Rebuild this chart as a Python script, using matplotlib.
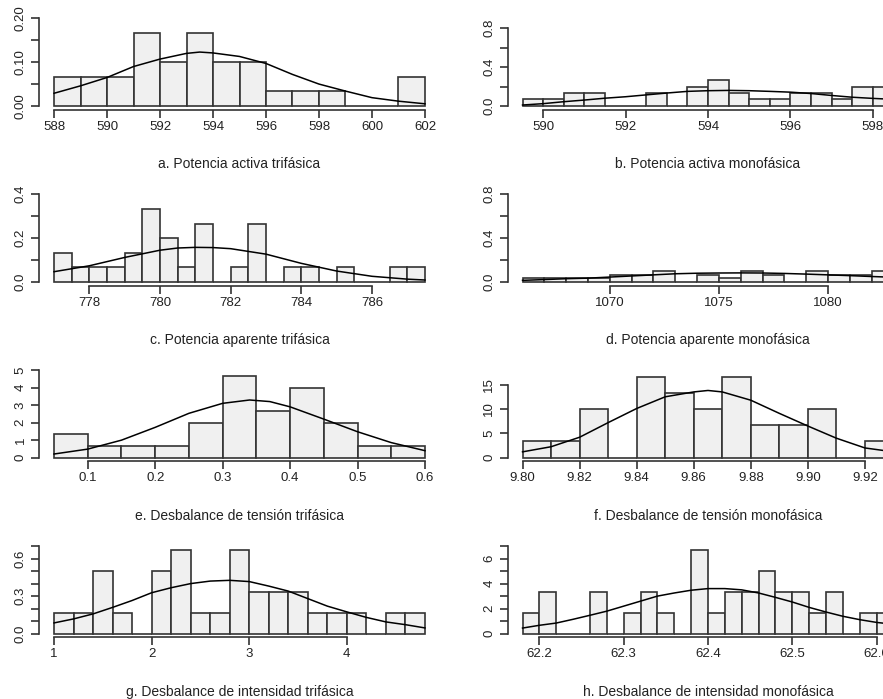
import numpy as np
import matplotlib
matplotlib.use("Agg")
import matplotlib.pyplot as plt
from matplotlib.transforms import offset_copy

plt.rcParams['font.family'] = ['Liberation Sans', 'DejaVu Sans']

W, H, DPI = 883, 699, 100

# ---------------- data ----------------
# a. Potencia activa trifásica
a_breaks = [588, 589, 590, 591, 592, 593, 594, 595, 596, 597, 598, 599, 600, 601, 602]
a_density = [0.0667, 0.0667, 0.0667, 0.1667, 0.1, 0.1667, 0.1, 0.1, 0.0333, 0.0333, 0.0333, 0, 0, 0.0667]
a_curve_x = [588, 589, 590, 591, 592, 593, 593.5, 594, 595, 596, 597, 598, 599, 600, 601, 602]
a_curve_y = [0.029, 0.046, 0.065, 0.090, 0.107, 0.120, 0.123, 0.121, 0.113, 0.097, 0.072, 0.050, 0.034, 0.019, 0.011, 0.005]
a_xticks = [588, 590, 592, 594, 596, 598, 600, 602]
a_yticks = [0.0, 0.05, 0.10, 0.15, 0.20]
a_ylabels = ["0.00", "", "0.10", "", "0.20"]
a_ylim = 0.20

# b. Potencia activa monofásica
b_breaks = [589.5, 590, 590.5, 591, 591.5, 592, 592.5, 593, 593.5, 594, 594.5, 595, 595.5, 596, 596.5, 597, 597.5, 598, 598.5]
b_density = [0.0667, 0.0667, 0.1333, 0.1333, 0, 0, 0.1333, 0, 0.2, 0.2667, 0.1333, 0.0667, 0.0667, 0.1333, 0.1333, 0.0667, 0.2, 0.2]
b_curve_x = [589.5, 590, 590.5, 591, 591.5, 592, 592.5, 593, 593.5, 594, 594.5, 595, 595.5, 596, 596.5, 597, 597.5, 598, 598.5]
b_curve_y = [0.010, 0.024, 0.044, 0.061, 0.080, 0.095, 0.114, 0.133, 0.150, 0.157, 0.160, 0.157, 0.150, 0.142, 0.128, 0.108, 0.090, 0.078, 0.068]
b_xticks = [590, 592, 594, 596, 598]
b_yticks = [0.0, 0.2, 0.4, 0.6, 0.8]
b_ylabels = ["0.0", "", "0.4", "", "0.8"]
b_ylim = 0.90

# c. Potencia aparente trifásica
c_breaks = [777, 777.5, 778, 778.5, 779, 779.5, 780, 780.5, 781, 781.5, 782, 782.5, 783, 783.5, 784, 784.5, 785, 785.5, 786, 786.5, 787, 787.5]
c_density = [0.1333, 0.0667, 0.0667, 0.0667, 0.1333, 0.3333, 0.2, 0.0667, 0.2667, 0, 0.0667, 0.2667, 0, 0.0667, 0.0667, 0, 0.0667, 0, 0, 0.0667, 0.0667]
c_curve_x = [777, 778, 779, 780, 780.5, 781, 781.5, 782, 783, 784, 785, 786, 787, 787.5]
c_curve_y = [0.047, 0.074, 0.112, 0.145, 0.155, 0.158, 0.157, 0.152, 0.127, 0.085, 0.050, 0.026, 0.013, 0.009]
c_xticks = [778, 780, 782, 784, 786]
c_yticks = [0.0, 0.1, 0.2, 0.3, 0.4]
c_ylabels = ["0.0", "", "0.2", "", "0.4"]
c_ylim = 0.40

# d. Potencia aparente monofásica
d_breaks = [1066, 1067, 1068, 1069, 1070, 1071, 1072, 1073, 1074, 1075, 1076, 1077, 1078, 1079, 1080, 1081, 1082, 1083]
d_density = [0.0333, 0.0333, 0.0333, 0.0333, 0.0667, 0.0667, 0.1, 0, 0.0667, 0.0333, 0.1, 0.0667, 0, 0.1, 0.0667, 0.0667, 0.1]
d_curve_x = [1066, 1067, 1068, 1069, 1070, 1071, 1072, 1073, 1074, 1075, 1076, 1077, 1078, 1079, 1080, 1081, 1082, 1083]
d_curve_y = [0.015, 0.022, 0.030, 0.035, 0.045, 0.055, 0.065, 0.075, 0.080, 0.082, 0.083, 0.082, 0.078, 0.072, 0.065, 0.058, 0.050, 0.043]
d_xticks = [1070, 1075, 1080]
d_yticks = [0.0, 0.2, 0.4, 0.6, 0.8]
d_ylabels = ["0.0", "", "0.4", "", "0.8"]
d_ylim = 0.80

# e. Desbalance de tensión trifásica
e_breaks = [0.05, 0.10, 0.15, 0.20, 0.25, 0.30, 0.35, 0.40, 0.45, 0.50, 0.55, 0.60]
e_density = [1.333, 0.667, 0.667, 0.667, 2.0, 4.667, 2.667, 4.0, 2.0, 0.667, 0.667]
e_curve_x = [0.05, 0.10, 0.15, 0.20, 0.25, 0.30, 0.34, 0.37, 0.40, 0.45, 0.50, 0.55, 0.60]
e_curve_y = [0.21, 0.49, 1.00, 1.73, 2.53, 3.10, 3.29, 3.20, 2.90, 2.20, 1.48, 0.86, 0.40]
e_xticks = [0.1, 0.2, 0.3, 0.4, 0.5, 0.6]
e_yticks = [0, 1, 2, 3, 4, 5]
e_ylabels = ["0", "1", "2", "3", "4", "5"]
e_ylim = 5.0

# f. Desbalance de tensión monofásica
f_breaks = [9.80, 9.81, 9.82, 9.83, 9.84, 9.85, 9.86, 9.87, 9.88, 9.89, 9.90, 9.91, 9.92, 9.93]
f_density = [3.333, 3.333, 10.0, 0, 16.667, 13.333, 10.0, 16.667, 6.667, 6.667, 10.0, 0, 3.333]
f_curve_x = [9.80, 9.81, 9.82, 9.83, 9.84, 9.85, 9.86, 9.865, 9.87, 9.88, 9.89, 9.90, 9.91, 9.92, 9.93]
f_curve_y = [1.2, 2.25, 4.2, 7.2, 10.1, 12.5, 13.5, 13.8, 13.5, 11.8, 9.1, 6.5, 4.0, 2.0, 1.2]
f_xticks = [9.80, 9.82, 9.84, 9.86, 9.88, 9.90, 9.92]
f_yticks = [0, 5, 10, 15]
f_ylabels = ["0", "5", "10", "15"]
f_ylim = 18.0

# g. Desbalance de intensidad trifásica
g_breaks = [1.0, 1.2, 1.4, 1.6, 1.8, 2.0, 2.2, 2.4, 2.6, 2.8, 3.0, 3.2, 3.4, 3.6, 3.8, 4.0, 4.2, 4.4, 4.6, 4.8]
g_density = [0.1667, 0.1667, 0.5, 0.1667, 0, 0.5, 0.6667, 0.1667, 0.1667, 0.6667, 0.3333, 0.3333, 0.3333, 0.1667, 0.1667, 0.1667, 0, 0.1667, 0.1667]
g_curve_x = [1.0, 1.2, 1.4, 1.6, 1.8, 2.0, 2.2, 2.4, 2.6, 2.8, 3.0, 3.2, 3.4, 3.6, 3.8, 4.0, 4.2, 4.4, 4.6, 4.8]
g_curve_y = [0.086, 0.118, 0.158, 0.21, 0.265, 0.327, 0.367, 0.40, 0.42, 0.426, 0.416, 0.38, 0.34, 0.28, 0.22, 0.174, 0.13, 0.094, 0.072, 0.046]
g_xticks = [1, 2, 3, 4]
g_yticks = [0.0, 0.1, 0.2, 0.3, 0.4, 0.5, 0.6, 0.7]
g_ylabels = ["0.0", "", "", "0.3", "", "", "0.6", ""]
g_ylim = 0.70

# h. Desbalance de intensidad monofásica
h_breaks = [62.18, 62.20, 62.22, 62.24, 62.26, 62.28, 62.30, 62.32, 62.34, 62.36, 62.38, 62.40,
            62.42, 62.44, 62.46, 62.48, 62.50, 62.52, 62.54, 62.56, 62.58, 62.60, 62.62]
h_density = [1.667, 3.333, 0, 0, 3.333, 0, 1.667, 3.333, 1.667, 0, 6.667, 1.667,
             3.333, 3.333, 5.0, 3.333, 3.333, 1.667, 3.333, 0, 1.667, 1.667]
h_curve_x = [62.18, 62.20, 62.22, 62.24, 62.26, 62.28, 62.30, 62.32, 62.34, 62.36, 62.38, 62.40,
             62.42, 62.44, 62.46, 62.48, 62.50, 62.52, 62.54, 62.56, 62.58, 62.60, 62.62]
h_curve_y = [0.45, 0.67, 0.85, 1.15, 1.47, 1.8, 2.2, 2.6, 3.0, 3.25, 3.47, 3.6,
             3.6, 3.5, 3.25, 2.9, 2.53, 2.1, 1.73, 1.39, 1.12, 0.9, 0.75]
h_xticks = [62.2, 62.3, 62.4, 62.5, 62.6]
h_yticks = [0, 1, 2, 3, 4, 5, 6, 7]
h_ylabels = ["0", "", "2", "", "4", "", "6", ""]
h_ylim = 7.0

titles = ["a. Potencia activa trifásica", "b. Potencia activa monofásica",
          "c. Potencia aparente trifásica", "d. Potencia aparente monofásica",
          "e. Desbalance de tensión trifásica", "f. Desbalance de tensión monofásica",
          "g. Desbalance de intensidad trifásica", "h. Desbalance de intensidad monofásica"]

xfmt = ["{:g}", "{:g}", "{:g}", "{:g}", "{:.1f}", "{:.2f}", "{:g}", "{:.1f}"]

panels = [
    (a_breaks, a_density, a_curve_x, a_curve_y, a_xticks, a_yticks, a_ylabels, a_ylim),
    (b_breaks, b_density, b_curve_x, b_curve_y, b_xticks, b_yticks, b_ylabels, b_ylim),
    (c_breaks, c_density, c_curve_x, c_curve_y, c_xticks, c_yticks, c_ylabels, c_ylim),
    (d_breaks, d_density, d_curve_x, d_curve_y, d_xticks, d_yticks, d_ylabels, d_ylim),
    (e_breaks, e_density, e_curve_x, e_curve_y, e_xticks, e_yticks, e_ylabels, e_ylim),
    (f_breaks, f_density, f_curve_x, f_curve_y, f_xticks, f_yticks, f_ylabels, f_ylim),
    (g_breaks, g_density, g_curve_x, g_curve_y, g_xticks, g_yticks, g_ylabels, g_ylim),
    (h_breaks, h_density, h_curve_x, h_curve_y, h_xticks, h_yticks, h_ylabels, h_ylim),
]

# ---------------- layout (pixels) ----------------
col_left = [39.2, 507.7]
plot_w = 400.6
plot_h = 94.7
row_bottom = [109.5, 285.5, 461.2, 637.2]

fig = plt.figure(figsize=(W / DPI, H / DPI), dpi=DPI)
fig.patch.set_facecolor("white")

edge_col = "#333333"
text_col = "#222222"

for i, (brk, dens, cx, cy, xt, yt, yl, ytop) in enumerate(panels):
    r, c = divmod(i, 2)
    left = col_left[c] / W
    bottom = 1 - row_bottom[r] / H
    ax = fig.add_axes([left, bottom, plot_w / W, plot_h / H])
    brk = np.asarray(brk, dtype=float)
    ax.bar(brk[:-1], dens, width=np.diff(brk), align="edge",
           color="#f0f0f0", edgecolor=edge_col, linewidth=1.2, zorder=2)
    ax.plot(cx, cy, color="black", linewidth=1.1, zorder=3)
    xr = brk[-1] - brk[0]
    ax.set_xlim(brk[0] - 0.04 * xr, brk[-1] + 0.04 * xr)
    ax.set_ylim(-0.04 * ytop, ytop * 1.04)
    ax.set_xticks(xt)
    ax.set_xticklabels([xfmt[i].format(v) for v in xt])
    ax.set_yticks(yt)
    ax.set_yticklabels(yl, rotation=90, va="center")
    for s in ["top", "right"]:
        ax.spines[s].set_visible(False)
    for s in ["left", "bottom"]:
        ax.spines[s].set_color(edge_col)
        ax.spines[s].set_linewidth(1.2)
    ax.spines["left"].set_bounds(yt[0], yt[-1])
    ax.spines["bottom"].set_bounds(xt[0], xt[-1])
    ax.tick_params(axis="both", direction="out", length=5.5, width=1.2,
                   color=edge_col, labelcolor=text_col, labelsize=9.5)
    ax.tick_params(axis="x", pad=2.5)
    ax.tick_params(axis="y", pad=3.5)
    ax.patch.set_alpha(0)
    tr = offset_copy(ax.transAxes, fig=fig, x=0, y=-54.4, units="dots")
    ax.text(0.5, 0, titles[i], transform=tr, ha="center", va="center",
            fontsize=10, color=text_col)

fig.savefig("out.png", dpi=DPI)
